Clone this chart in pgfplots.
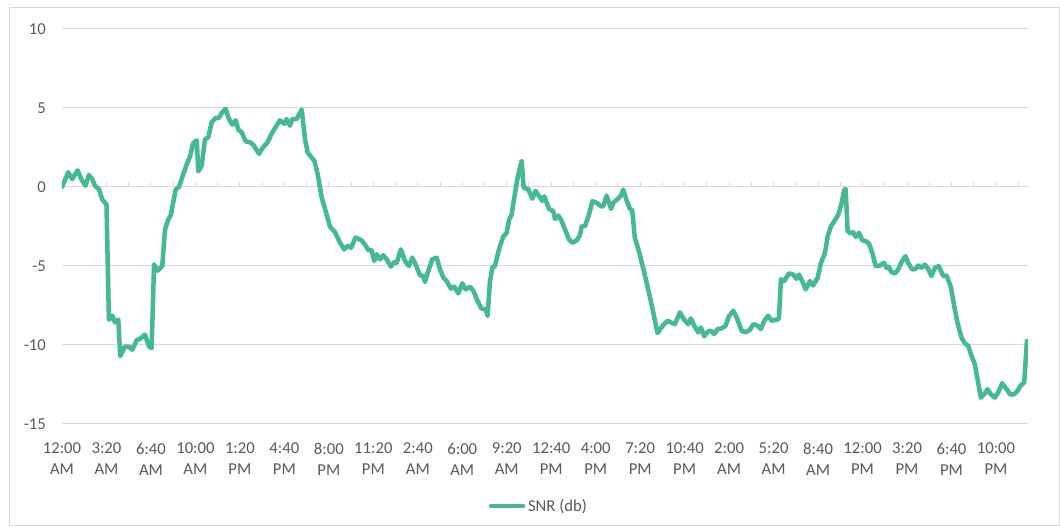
\documentclass[border=0pt]{standalone}
\usepackage{pgfplots}
\pgfplotsset{compat=1.18}
\usepackage{pgfplotstable}
\usepackage{fontspec}
\setmainfont{Carlito}
\definecolor{snr}{RGB}{69,185,145}
\definecolor{labelgray}{RGB}{89,89,89}
\definecolor{gridgray}{RGB}{217,217,217}

\pgfplotstableread{
x y
0 0.0
2.8 0.93
4.6 0.5
7 1.05
8.8 0.46
10.6 0.08
12.1 0.76
13.6 0.5
14.8 0.08
16.6 -0.13
18.1 -0.8
20 -1.1
21.1 -8.4
22.6 -8.14
23.8 -8.57
25.3 -8.4
26.2 -10.7
28.3 -10.1
30.1 -10.1
31.6 -10.3
33.6 -9.7
35.1 -9.6
37.3 -9.35
39.1 -10.1
40.3 -10.2
41.4 -4.9
43 -5.3
45.1 -5.0
46.3 -2.7
47.8 -2.07
49 -1.75
51.1 -0.17
52.6 0.0
53.8 0.5
56 1.41
57.6 1.94
59 2.78
60.6 2.95
61.3 0.99
62.8 1.35
64.3 3.0
65.8 3.16
67.3 4.1
69.1 4.37
70.6 4.37
71.8 4.68
73.6 4.94
75.1 4.3
76.6 3.95
78.1 4.22
79.3 3.63
80.8 3.46
82.6 2.89
84.5 2.83
86 2.68
88.6 2.1
90.5 2.53
92.5 2.83
94 3.31
95.8 3.73
98 4.22
100 4.0
101 4.3
102.5 3.88
103.6 4.3
105.5 4.3
107.8 4.9
109.3 3.0
110.5 2.17
113.5 1.65
115 0.8
116.8 -0.68
119 -1.73
120.5 -2.51
122.7 -2.85
125 -3.52
126.9 -3.95
128.4 -3.73
130 -3.84
132 -3.2
134.4 -3.35
136.2 -3.63
137.7 -3.99
139.2 -3.99
140.4 -4.68
141.5 -4.26
143 -4.58
144.5 -4.32
146 -4.58
147.9 -5.04
149.4 -4.75
150.5 -4.79
152.4 -3.95
154.2 -4.68
156 -5.0
157.5 -4.47
159 -4.89
161 -5.59
162.5 -5.63
163.2 -6.01
164.7 -5.32
166.5 -4.58
168.5 -4.47
170 -5.21
171.5 -5.74
173 -5.95
174.9 -6.43
176.4 -6.31
178.2 -6.73
180 -6.1
181.5 -6.48
183.5 -6.31
185 -6.58
186.9 -7.22
188.7 -7.7
190.5 -7.74
191.4 -8.16
192.4 -6.05
193.5 -5.1
194.7 -5.0
196.5 -3.95
198.4 -3.14
200 -2.89
201 -2.09
202.2 -1.73
203 -0.99
204.9 0.59
206.7 1.65
207.6 -0.04
209.7 -0.15
211.5 -0.74
213 -0.25
214.5 -0.57
216 -0.89
216.9 -0.59
219 -1.39
220.9 -1.53
221.7 -2.02
223.2 -1.81
224.7 -2.16
226.5 -2.79
228 -3.32
229.5 -3.53
231.4 -3.38
232.9 -3.07
233.7 -2.48
235.2 -2.48
237 -1.74
238.5 -0.9
240.4 -1.0
242.4 -1.22
243.4 -1.22
244.9 -0.55
246.9 -1.39
247.9 -1.0
249.9 -0.76
251.3 -0.55
252.4 -0.17
253.9 -0.84
255.4 -1.39
256.4 -1.47
257.6 -3.21
259.4 -4.05
261.4 -5.17
263.6 -6.47
265.4 -7.63
267.8 -9.24
269.3 -8.95
270.4 -8.74
272.3 -8.47
274.4 -8.61
275.6 -8.68
277.9 -7.94
279.8 -8.4
281.6 -8.68
282.8 -8.32
284.3 -8.78
286.1 -9.2
287.3 -8.89
288.8 -9.45
290.3 -9.16
291.8 -9.1
293.3 -9.31
294.8 -8.99
296.6 -8.95
298.4 -8.78
299.9 -8.19
301.9 -7.84
303.4 -8.26
305.6 -9.1
307.4 -9.2
309.4 -9.03
310.9 -8.68
312.8 -8.78
314.3 -8.99
315.8 -8.47
317.6 -8.15
319.1 -8.47
320.9 -8.4
322.4 -8.36
323.3 -5.84
324.8 -5.95
326.9 -5.47
328.8 -5.54
330.3 -5.81
331.4 -5.54
332.9 -5.96
334.4 -6.48
336.3 -5.96
337.8 -6.23
339.8 -5.75
341.3 -4.8
343.1 -4.17
344.3 -3.12
345.8 -2.48
347.3 -2.17
349.1 -1.75
350.6 -1.01
351.8 -0.17
352.4 -0.13
353.3 -2.8
354.8 -2.95
355.8 -2.86
356.9 -3.16
358.4 -2.9
359.9 -3.37
361.4 -3.43
362.9 -3.58
364.4 -4.17
365.9 -5.01
367.8 -4.97
369.7 -4.8
370.8 -5.12
371.8 -5.05
373 -5.39
374.6 -5.47
376 -5.22
377.5 -4.76
379.3 -4.38
380.5 -4.8
382.3 -5.22
383.9 -5.18
385 -4.97
386.5 -5.12
388 -4.91
389.5 -5.18
391 -5.64
392.5 -5.12
394.3 -5.01
396.3 -5.64
397.8 -5.6
399.7 -6.32
401.2 -7.54
402.7 -8.59
404.5 -9.54
406 -9.89
407.5 -10.06
409.3 -10.8
410.5 -11.22
411.7 -12.17
413.2 -13.33
414.7 -13.12
416.2 -12.8
417.7 -13.12
419.5 -13.33
421 -13.01
422.8 -12.42
424.8 -12.8
426.3 -13.12
428.2 -13.12
429.7 -12.9
431.2 -12.55
432.7 -12.38
433.9 -9.75
}\snrdata

\begin{document}
\begin{tikzpicture}
\begin{axis}[
  scale only axis,
  width=724.5pt, height=296.25pt,
  xmin=0, xmax=434.4,
  ymin=-15, ymax=10,
  axis line style={draw=none},
  major tick length=0pt,
  tick style={draw=none},
  ytick={-15,-10,-5,0,5,10},
  yticklabels={-15,-10,-5,0,5,10},
  ymajorgrids,
  grid style={gridgray, line width=0.75pt},
  xtick={0,20,40,60,80,100,120,140,160,180,200,220,240,260,280,300,320,340,360,380,400,420},
  xticklabels={{12:00\\AM},{3:20\\AM},{6:40\\AM},{10:00\\AM},{1:20\\PM},{4:40\\PM},{8:00\\PM},{11:20\\PM},{2:40\\AM},{6:00\\AM},{9:20\\AM},{12:40\\PM},{4:00\\PM},{7:20\\PM},{10:40\\PM},{2:00\\AM},{5:20\\AM},{8:40\\AM},{12:00\\PM},{3:20\\PM},{6:40\\PM},{10:00\\PM}},
  xticklabel style={align=center, font=\fontsize{12.5}{15.75}\selectfont, text=labelgray, yshift=-10.85pt},
  yticklabel style={font=\fontsize{12.5}{15}\selectfont, text=labelgray, xshift=-8.6pt},
  legend style={at={(0.494,-0.2076)}, anchor=center, draw=none, fill=none,
    font=\fontsize{12.5}{15}\selectfont, text=labelgray},
  legend image code/.code={\draw[#1] (-6pt,0pt) -- (18pt,0pt);},
]
\pgfplotsinvokeforeach{0,10,...,430}{
  \draw[gridgray, line width=0.75pt] (axis cs:#1,0) -- ++(0pt,3.75pt);
}
\addplot[snr, line width=3.4pt, line join=round, line cap=round] table[x=x,y=y] {\snrdata};
\addlegendentry{SNR (db)}
\end{axis}
\draw[gridgray, line width=0.75pt]
  ([xshift=-39pt,yshift=-76.5pt]current axis.south west) rectangle
  ([xshift=23.25pt,yshift=15.75pt]current axis.north east);
\pgfresetboundingbox
\path[use as bounding box]
  ([xshift=-46.5pt,yshift=-77.25pt]current axis.south west) rectangle
  ([xshift=24pt,yshift=21.75pt]current axis.north east);
\end{tikzpicture}
\end{document}
